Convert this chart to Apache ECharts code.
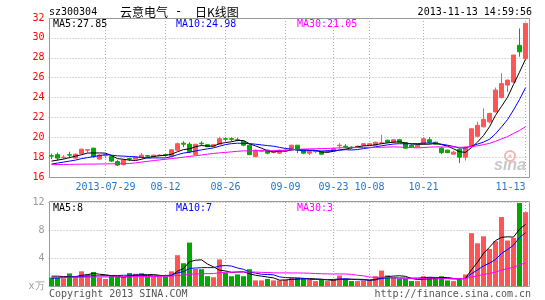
<!DOCTYPE html>
<html><head><meta charset="utf-8">
<script src="https://cdn.jsdelivr.net/npm/echarts@6/dist/echarts.min.js"></script>
<style>html,body{margin:0;padding:0;background:#fff}#c{width:545px;height:300px}</style>
</head><body><div id="c"></div>
<script>
const dates = ['2013-07-16','2013-07-17','2013-07-18','2013-07-19','2013-07-22','2013-07-23','2013-07-24','2013-07-25','2013-07-26','2013-07-29',
'2013-07-30','2013-07-31','2013-08-01','2013-08-02','2013-08-05','2013-08-06','2013-08-07','2013-08-08','2013-08-09','2013-08-12',
'2013-08-13','2013-08-14','2013-08-15','2013-08-16','2013-08-19','2013-08-20','2013-08-21','2013-08-22','2013-08-23','2013-08-26',
'2013-08-27','2013-08-28','2013-08-29','2013-08-30','2013-09-02','2013-09-03','2013-09-04','2013-09-05','2013-09-06','2013-09-09',
'2013-09-10','2013-09-11','2013-09-12','2013-09-13','2013-09-16','2013-09-17','2013-09-18','2013-09-23','2013-09-24','2013-09-25',
'2013-09-26','2013-09-27','2013-09-30','2013-10-08','2013-10-09','2013-10-10','2013-10-11','2013-10-14','2013-10-15','2013-10-16',
'2013-10-17','2013-10-18','2013-10-21','2013-10-22','2013-10-23','2013-10-24','2013-10-25','2013-10-28','2013-10-29','2013-10-30',
'2013-10-31','2013-11-01','2013-11-04','2013-11-05','2013-11-06','2013-11-07','2013-11-08','2013-11-11','2013-11-12','2013-11-13'];
const tickDates = ['2013-07-29','2013-08-12','2013-08-26','2013-09-09','2013-09-23','2013-10-08','2013-10-21','2013-11-13'];
const tickLabels = ['2013-07-29','08-12','08-26','09-09','09-23','10-08','10-21','11-13'];

const opens = [18.15,18.25,17.95,18.25,17.90,18.35,18.70,18.90,17.80,18.15,
18.05,17.55,17.25,17.85,17.80,17.95,18.15,18.05,18.15,18.25,
18.10,18.70,19.40,19.30,18.25,19.40,19.25,19.10,19.30,19.85,
19.85,19.75,19.60,19.20,18.05,18.60,18.70,18.45,18.40,18.60,
18.75,19.20,18.70,18.40,18.55,18.55,18.50,18.65,19.15,19.10,
19.00,19.00,19.20,19.20,19.20,19.40,19.70,19.50,19.75,19.45,
19.20,19.05,19.35,19.75,19.50,18.90,18.70,18.30,18.80,18.00,
19.05,20.10,21.05,21.55,22.55,24.00,25.25,25.55,29.25,27.90];
const closes = [18.10,17.90,18.00,18.20,18.30,18.80,18.75,18.05,18.20,18.20,
17.60,17.20,17.70,17.80,18.00,18.20,18.10,18.20,18.20,18.20,
18.75,19.35,19.30,18.55,19.30,19.35,19.05,19.25,19.85,19.80,
19.80,19.70,19.20,18.25,18.70,18.65,18.40,18.60,18.70,18.70,
19.20,18.70,18.40,18.55,18.60,18.30,18.60,18.85,19.20,19.05,
18.95,19.10,19.35,19.35,19.50,19.45,19.50,19.75,19.50,18.90,
19.05,19.20,19.85,19.50,19.30,18.45,18.45,18.50,18.00,19.00,
20.85,21.20,21.80,22.40,24.75,25.40,25.75,28.27,28.60,31.46];
const lows = [17.80,17.65,17.80,17.90,17.85,18.30,18.45,17.95,17.75,17.90,
17.50,17.10,17.15,17.60,17.75,17.90,17.95,18.00,18.10,18.05,
18.05,18.60,19.00,18.40,18.20,19.20,19.00,19.05,19.25,19.60,
19.60,19.60,19.10,18.20,18.00,18.50,18.30,18.40,18.35,18.55,
18.70,18.40,18.30,18.20,18.40,18.25,18.45,18.60,18.85,18.90,
18.85,18.95,19.10,19.15,19.15,19.30,19.45,19.45,19.45,18.85,
18.95,19.00,19.30,19.35,19.25,18.30,18.40,18.25,17.40,17.65,
19.00,20.00,21.00,21.40,22.50,23.90,24.55,25.50,28.10,27.90];
const highs = [18.35,18.45,18.20,18.55,18.35,18.85,18.78,18.95,18.30,18.25,
18.15,17.70,17.75,17.95,18.05,18.40,18.20,18.25,18.30,18.30,
18.80,19.45,19.60,19.50,19.30,19.60,19.30,19.30,20.05,20.00,
20.00,19.95,19.65,19.30,18.75,18.75,18.75,18.65,18.75,18.80,
19.25,19.20,18.75,18.70,18.70,18.60,18.65,18.90,19.40,19.30,
19.10,19.15,19.40,19.40,19.55,20.25,19.75,19.80,19.80,19.50,
19.30,19.25,20.00,20.00,19.55,19.05,18.75,18.65,18.85,19.05,
20.90,21.55,22.90,22.45,25.00,26.45,25.80,28.30,30.95,31.46];

const ma5 = [17.6,17.7,17.8,17.95,18.1,18.24,18.41,18.42,18.42,18.4,
18.16,17.85,17.78,17.7,17.66,17.78,17.96,18.06,18.14,18.18,
18.29,18.54,18.76,18.83,19.05,19.17,19.11,19.1,19.36,19.46,
19.55,19.68,19.67,19.35,19.13,18.9,18.64,18.52,18.61,18.61,
18.72,18.78,18.74,18.71,18.69,18.51,18.49,18.58,18.71,18.8,
18.93,19.03,19.13,19.16,19.25,19.35,19.43,19.51,19.54,19.42,
19.34,19.28,19.3,19.3,19.38,19.26,19.11,18.84,18.54,18.48,
18.96,19.51,20.17,21.05,22.2,23.11,24.02,25.31,26.55,27.85];
const ma10 = [17.3,17.4,17.5,17.6,17.7,17.85,17.95,18.05,18.15,18.25,
18.2,18.13,18.1,18.06,18.03,17.97,17.9,17.92,17.92,17.92,
18.04,18.25,18.41,18.49,18.62,18.73,18.83,18.93,19.1,19.26,
19.36,19.4,19.39,19.36,19.3,19.23,19.16,19.1,18.98,18.87,
18.81,18.71,18.63,18.66,18.65,18.62,18.64,18.66,18.71,18.75,
18.72,18.76,18.86,18.94,19.03,19.14,19.23,19.32,19.35,19.34,
19.35,19.36,19.41,19.42,19.4,19.3,19.2,19.07,18.92,18.93,
19.11,19.31,19.51,19.8,20.34,21.04,21.77,22.74,23.8,24.98];
const ma30 = [17.25,17.25,17.26,17.27,17.28,17.29,17.3,17.3,17.31,17.32,
17.33,17.33,17.34,17.36,17.42,17.5,17.58,17.65,17.72,17.78,
17.85,17.92,18.0,18.07,18.14,18.22,18.3,18.37,18.43,18.48,
18.53,18.59,18.63,18.63,18.65,18.64,18.63,18.65,18.67,18.68,
18.74,18.79,18.81,18.83,18.85,18.86,18.87,18.9,18.93,18.96,
18.96,18.96,18.96,18.98,18.99,18.99,19.01,19.03,19.01,18.98,
18.96,18.94,18.96,19.01,19.03,19.02,19.02,19.02,18.99,19.0,
19.06,19.14,19.26,19.38,19.59,19.83,20.06,20.38,20.69,21.05];

const volumes = [1.2,1.2,1.1,1.8,1.4,2.1,1.7,2.0,1.2,1.0,
1.45,1.3,1.3,1.85,1.75,1.85,1.35,1.35,1.35,1.35,
2.1,4.4,3.25,6.2,2.45,2.4,1.4,1.25,3.8,1.9,
1.4,1.65,1.4,2.4,0.8,0.8,1.0,0.8,0.8,0.9,
1.2,1.2,1.1,0.9,0.7,0.9,0.7,0.9,1.5,1.0,
0.7,0.7,0.8,0.8,1.4,2.2,1.5,1.2,1.0,1.0,
0.7,0.7,1.4,1.3,1.2,1.4,0.8,0.7,0.9,1.65,
7.55,6.1,7.1,5.3,6.4,9.85,6.5,6.85,11.85,10.55];
const volMa5 = [1.4,1.4,1.35,1.35,1.34,1.52,1.62,1.8,1.68,1.6,
1.47,1.39,1.25,1.38,1.53,1.61,1.62,1.63,1.53,1.45,
1.5,2.11,2.49,3.46,3.68,3.74,3.14,2.74,2.26,2.15,
1.95,2.0,2.03,1.75,1.53,1.41,1.28,1.16,0.84,0.86,
0.94,0.98,1.04,1.06,1.02,0.96,0.86,0.82,0.94,1.0,
0.96,0.96,0.94,0.8,0.88,1.18,1.34,1.42,1.46,1.38,
1.08,0.92,0.96,1.02,1.06,1.2,1.22,1.08,1.0,1.09,
2.32,3.38,4.66,5.54,6.49,6.95,7.03,6.98,8.1,8.8];
const volMa10 = [1.1,1.15,1.2,1.25,1.3,1.35,1.4,1.45,1.45,1.47,
1.5,1.5,1.53,1.53,1.57,1.54,1.5,1.44,1.46,1.49,
1.56,1.87,2.06,2.5,2.57,2.62,2.63,2.62,2.86,2.92,
2.85,2.57,2.39,2.0,1.84,1.68,1.64,1.6,1.3,1.2,
1.18,1.13,1.1,0.95,0.94,0.95,0.92,0.93,1.0,1.01,
0.96,0.91,0.88,0.87,0.94,1.07,1.15,1.18,1.13,1.13,
1.13,1.13,1.19,1.24,1.22,1.14,1.07,1.02,1.01,1.08,
1.76,2.3,2.87,3.27,3.79,4.64,5.21,5.82,6.92,7.6];
const volMa30 = [1.25,1.25,1.25,1.26,1.26,1.27,1.28,1.28,1.29,1.3,
1.3,1.31,1.32,1.33,1.34,1.35,1.36,1.37,1.38,1.4,
1.42,1.5,1.55,1.68,1.72,1.75,1.77,1.78,1.88,1.96,
1.97,1.98,1.99,2.01,1.99,1.95,1.92,1.88,1.87,1.87,
1.86,1.86,1.85,1.82,1.78,1.75,1.73,1.71,1.72,1.71,
1.66,1.54,1.46,1.28,1.24,1.23,1.24,1.24,1.14,1.11,
1.09,1.06,1.06,1.02,1.03,1.05,1.05,1.04,1.05,1.07,
1.28,1.45,1.65,1.79,1.98,2.28,2.48,2.67,3.02,3.3];

const stockCode = 'sz300304';
const stockName = '云意电气';
const chartKind = '日K线图';
const stamp = '2013-11-13 14:59:56';

const UP = '#ff5555', DOWN = '#00a800';
const C5 = '#000000', C10 = '#0000ff', C30 = '#ff00ff';
const MONO = '"DejaVu Sans Mono", monospace';
const F10 = '10px ' + MONO;
const GRIDC = '#b0b0b0';

const candleData = dates.map((d, i) => [opens[i], closes[i], lows[i], highs[i]]);
const volData = volumes.map((v, i) => ({ value: v, itemStyle: { color: closes[i] >= opens[i] ? UP : DOWN } }));
const isTick = (idx) => tickDates.indexOf(dates[idx]) >= 0;
const last = (a) => a[a.length - 1];

function txt(x, y, s, fill, font, align) {
  return { type: 'text', x: x, y: y, silent: true, z: 10,
    style: { text: s, fill: fill, font: font || F10, textAlign: align || 'left', textVerticalAlign: 'middle' } };
}
const vSplit = { show: true, interval: (i) => isTick(i), alignWithLabel: true, lineStyle: { color: GRIDC, type: [1, 2], width: 1 } };

const option = {
  animation: false,
  backgroundColor: '#ffffff',
  grid: [
    { left: 48.5, top: 18, width: 480, height: 159 },
    { left: 48.5, top: 202, width: 480, height: 84 }
  ],
  xAxis: [
    { type: 'category', gridIndex: 0, data: dates, boundaryGap: true,
      axisLine: { show: false }, axisTick: { show: false },
      axisLabel: { interval: (i) => isTick(i), formatter: (v) => tickLabels[tickDates.indexOf(v)],
        color: '#1a7ad4', fontFamily: MONO, fontSize: 10, margin: 5, alignMaxLabel: 'right' },
      splitLine: vSplit },
    { type: 'category', gridIndex: 1, data: dates, boundaryGap: true,
      axisLine: { show: false }, axisTick: { show: false }, axisLabel: { show: false },
      splitLine: vSplit }
  ],
  yAxis: [
    { type: 'value', gridIndex: 0, min: 16, max: 32, interval: 2,
      axisLine: { show: false }, axisTick: { show: false },
      axisLabel: { color: '#ff0000', fontFamily: MONO, fontSize: 10, margin: 4 },
      splitLine: { show: true, lineStyle: { color: GRIDC, type: [1, 2] } } },
    { type: 'value', gridIndex: 1, min: 0, max: 12, interval: 4,
      axisLine: { show: false }, axisTick: { show: false },
      axisLabel: { color: '#999999', fontFamily: MONO, fontSize: 10, margin: 4,
        formatter: (v) => v === 0 ? 'x万' : String(v) },
      splitLine: { show: true, lineStyle: { color: GRIDC, type: [1, 2] } } }
  ],
  series: [
    { type: 'candlestick', xAxisIndex: 0, yAxisIndex: 0, data: candleData, barWidth: 4, z: 2,
      itemStyle: { color: UP, color0: DOWN, borderColor: UP, borderColor0: DOWN, borderWidth: 1 } },
    { type: 'line', xAxisIndex: 0, yAxisIndex: 0, data: ma5, symbol: 'none', z: 3, lineStyle: { color: C5, width: 1 } },
    { type: 'line', xAxisIndex: 0, yAxisIndex: 0, data: ma10, symbol: 'none', z: 3, lineStyle: { color: C10, width: 1 } },
    { type: 'line', xAxisIndex: 0, yAxisIndex: 0, data: ma30, symbol: 'none', z: 3, lineStyle: { color: C30, width: 1 } },
    { type: 'bar', xAxisIndex: 1, yAxisIndex: 1, data: volData, barWidth: 5, z: 2 },
    { type: 'line', xAxisIndex: 1, yAxisIndex: 1, data: volMa5, symbol: 'none', z: 3, lineStyle: { color: C5, width: 1 } },
    { type: 'line', xAxisIndex: 1, yAxisIndex: 1, data: volMa10, symbol: 'none', z: 3, lineStyle: { color: C10, width: 1 } },
    { type: 'line', xAxisIndex: 1, yAxisIndex: 1, data: volMa30, symbol: 'none', z: 3, lineStyle: { color: C30, width: 1 } }
  ],
  graphic: [
    { type: 'rect', silent: true, z: 1, shape: { x: 49.5, y: 18.5, width: 480, height: 159 }, style: { fill: 'none', stroke: '#999999', lineWidth: 1 } },
    { type: 'rect', silent: true, z: 1, shape: { x: 49.5, y: 201.5, width: 480, height: 85 }, style: { fill: 'none', stroke: '#999999', lineWidth: 1 } },
    txt(49, 12, stockCode, '#000'),
    txt(120, 12, stockName, '#000', '12px "Noto Sans CJK SC"'),
    txt(175, 12, '-', '#000', '12px ' + MONO),
    txt(195, 12, chartKind, '#000', '12px "Noto Sans CJK SC"'),
    txt(532, 12, stamp, '#000', F10, 'right'),
    txt(53, 24, 'MA5:' + last(ma5).toFixed(2), C5),
    txt(176, 24, 'MA10:' + last(ma10).toFixed(2), C10),
    txt(297, 24, 'MA30:' + last(ma30).toFixed(2), C30),
    txt(53, 208, 'MA5:' + Math.floor(last(volMa5)), C5),
    txt(176, 208, 'MA10:' + Math.floor(last(volMa10)), C10),
    txt(297, 208, 'MA30:' + Math.floor(last(volMa30)), C30),
    txt(49, 294, 'Copyright 2013 SINA.COM', '#555555'),
    txt(531, 294, 'http://finance.sina.com.cn', '#555555', F10, 'right'),
    { type: 'circle', silent: true, z: 1, shape: { cx: 510, cy: 156, r: 5 }, style: { fill: 'none', stroke: '#f5b5b5', lineWidth: 2 } },
    { type: 'circle', silent: true, z: 1, shape: { cx: 510, cy: 156, r: 1.5 }, style: { fill: '#f5b5b5' } },
    { type: 'text', silent: true, z: 1, x: 494, y: 166, style: { text: 'sina', fill: '#c8c8c8', font: 'italic bold 16px "Liberation Sans", sans-serif', textAlign: 'left', textVerticalAlign: 'middle' } }
  ]
};
const chart = echarts.init(document.getElementById('c'));
chart.setOption(option);
</script></body></html>
